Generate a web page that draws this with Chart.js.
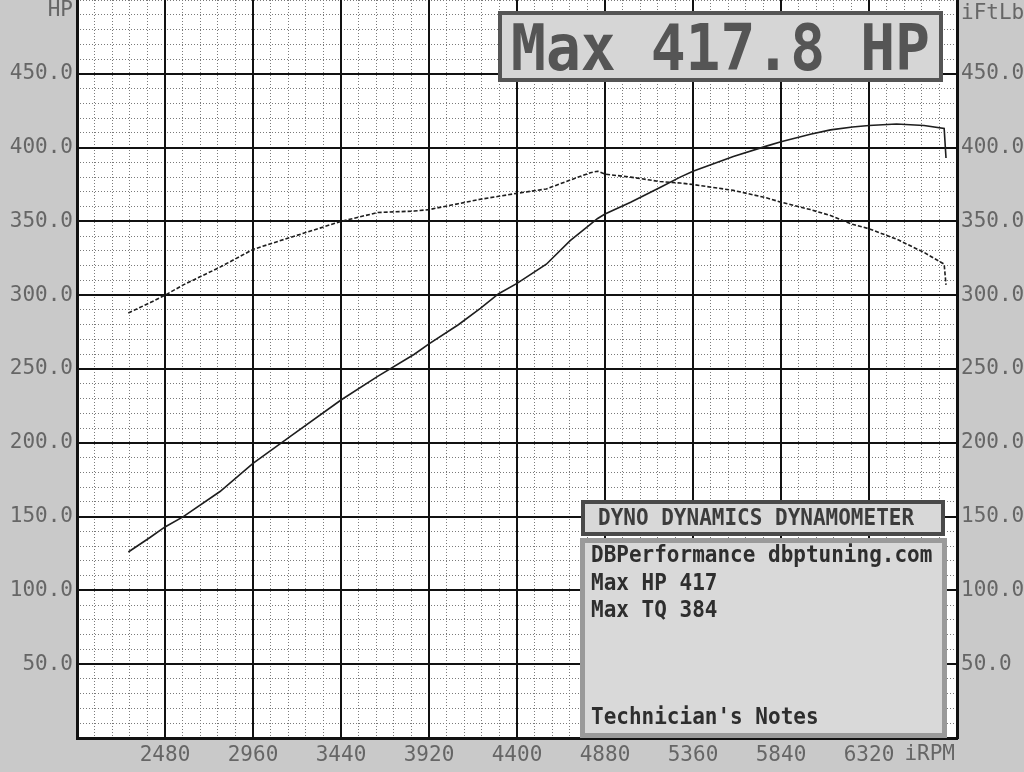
<!DOCTYPE html>
<html>
<head>
<meta charset="utf-8">
<title>Dyno Dynamics</title>
<script src="https://cdn.jsdelivr.net/npm/chart.js@4.4.1/dist/chart.umd.min.js"></script>
<style>
    html, body { margin: 0; padding: 0; background: #c9c9c9; }
    canvas { display: block; }
</style>
</head>
<body>
<canvas id="dynoChart" width="1024" height="772"></canvas>
<script>
// RPM samples and readings off the dyno sheet
const rpm    = [2280, 2400, 2480, 2580, 2780, 2960, 3160, 3440, 3640, 3840, 3920, 4080, 4200, 4300, 4400, 4560, 4690, 4800, 4840, 4880, 5020, 5180, 5290, 5360, 5580, 5760, 5840, 6000, 6110, 6230, 6320, 6470, 6620, 6730, 6740];
const hp     = [126, 136, 143, 150, 167, 186, 204, 229, 245, 260, 267, 280, 291, 301, 308, 321, 337, 348, 352, 355, 363, 373, 380, 384, 394, 401, 404, 409, 412, 414, 415, 416, 415, 413, 393];
const torque = [288, 295, 300, 307, 319, 331, 339, 350, 356, 357, 358, 362, 365, 367, 369, 372, 378, 383, 384, 382, 380, 377, 376, 375, 371, 366, 363, 358, 354, 348, 345, 338, 329, 321, 307];

const rpmTicks = [2480, 2960, 3440, 3920, 4400, 4880, 5360, 5840, 6320];
const infoLines = ['DBPerformance dbptuning.com', 'Max HP 417', 'Max TQ 384'];

const X_MIN = 2000, X_MAX = 6800, Y_MAX = 500;
const MONO = '"DejaVu Sans Mono", "Liberation Mono", monospace';
const labelGrey = '#666';

const yLabel = v => (v <= 0 || v >= Y_MAX) ? null : v.toFixed(1);

// no edge padding, the plot runs to the top of the sheet
const noPad = scale => {
    scale.paddingTop = 0;
    scale.paddingBottom = 0;
    scale.paddingLeft = 0;
    scale.paddingRight = 0;
};

// draws pixel-ish stretched text
function sheetText(ctx, text, x, baseline, size, sy, color, align) {
    ctx.save();
    ctx.translate(x, baseline);
    ctx.scale(1, sy);
    ctx.font = `bold ${size}px ${MONO}`;
    ctx.fillStyle = color;
    ctx.textAlign = align || 'left';
    ctx.textBaseline = 'alphabetic';
    ctx.fillText(text, 0, 0);
    ctx.restore();
}

function panel(ctx, x, y, w, h, fill, stroke, lw) {
    ctx.save();
    ctx.fillStyle = fill;
    ctx.fillRect(x, y, w, h);
    ctx.strokeStyle = stroke;
    ctx.lineWidth = lw;
    ctx.strokeRect(x + lw / 2, y + lw / 2, w - lw, h - lw);
    ctx.restore();
}

const sheet = {
    id: 'sheet',
    beforeDraw(chart) {
        const { ctx, chartArea: a } = chart;
        ctx.save();
        ctx.fillStyle = '#c9c9c9';
        ctx.fillRect(0, 0, chart.width, chart.height);
        ctx.fillStyle = '#ffffff';
        ctx.fillRect(a.left, a.top, a.right - a.left, a.bottom - a.top);
        ctx.restore();
    },
    afterDraw(chart) {
        const { ctx, chartArea: a } = chart;

        // axis captions
        ctx.save();
        ctx.font = `21px ${MONO}`;
        ctx.fillStyle = labelGrey;
        ctx.textBaseline = 'alphabetic';
        ctx.textAlign = 'right';
        ctx.fillText('HP', a.left - 4, 16);
        ctx.textAlign = 'left';
        ctx.fillText('iFtLb', a.right + 4, 19);
        ctx.textAlign = 'right';
        ctx.fillText('iRPM', a.right - 2, 760);
        ctx.restore();

        // big max box
        panel(ctx, 498, 11, 445, 71, '#d6d6d6', '#555', 4);
        sheetText(ctx, 'Max 417.8 HP', 511, 70, 58, 1.1, '#555', 'left');

        // header box
        panel(ctx, 581, 500, 364, 36, '#d8d8d8', '#4a4a4a', 4);
        sheetText(ctx, 'DYNO DYNAMICS DYNAMOMETER', 598, 525, 21, 1.12, '#3c3c3c', 'left');

        // info box
        panel(ctx, 580, 538, 367, 200, '#d9d9d9', '#9a9a9a', 5);
        const baselines = [562, 590, 617];
        infoLines.forEach((line, i) => {
            sheetText(ctx, line, 591, baselines[i], 21, 1.12, '#2e2e2e', 'left');
        });
        sheetText(ctx, "Technician's Notes", 591, 724, 21, 1.12, '#2e2e2e', 'left');
    }
};

new Chart(document.getElementById('dynoChart'), {
    type: 'line',
    data: {
        datasets: [
            {
                label: 'Torque',
                data: rpm.map((r, i) => ({ x: r, y: torque[i] })),
                borderColor: '#1e1e1e',
                borderWidth: 1.6,
                borderDash: [4, 2],
                pointRadius: 0,
                tension: 0,
                xAxisID: 'x',
                yAxisID: 'y'
            },
            {
                label: 'Power',
                data: rpm.map((r, i) => ({ x: r, y: hp[i] })),
                borderColor: '#1e1e1e',
                borderWidth: 1.6,
                pointRadius: 0,
                tension: 0,
                xAxisID: 'x',
                yAxisID: 'y'
            }
        ]
    },
    options: {
        responsive: false,
        animation: false,
        devicePixelRatio: 1,
        layout: { padding: 0 },
        plugins: {
            legend: { display: false },
            tooltip: { enabled: false }
        },
        scales: {
            xMinor: {
                type: 'linear',
                position: 'bottom',
                min: X_MIN,
                max: X_MAX,
                weight: 1,
                ticks: { display: false, stepSize: 96, autoSkip: false },
                grid: { color: '#7a7a7a', lineWidth: 1, drawTicks: false },
                border: { display: false, dash: [1, 2] },
                afterFit: noPad
            },
            yMinor: {
                type: 'linear',
                position: 'left',
                min: 0,
                max: Y_MAX,
                weight: 1,
                ticks: { display: false, stepSize: 10, autoSkip: false },
                grid: { color: '#7a7a7a', lineWidth: 1, drawTicks: false },
                border: { display: false, dash: [1, 2] },
                afterFit: noPad
            },
            x: {
                type: 'linear',
                position: 'bottom',
                min: X_MIN,
                max: X_MAX,
                weight: 2,
                afterBuildTicks: scale => {
                    scale.ticks = [X_MIN, ...rpmTicks, X_MAX].map(v => ({ value: v }));
                },
                ticks: {
                    autoSkip: false,
                    maxRotation: 0,
                    padding: 5,
                    color: labelGrey,
                    font: { family: MONO, size: 21 },
                    callback: v => rpmTicks.includes(v) ? String(v) : null
                },
                grid: { color: '#111', lineWidth: 2, drawTicks: false },
                border: { color: '#111', width: 3 },
                afterFit: scale => { noPad(scale); scale.height = 34; }
            },
            y: {
                type: 'linear',
                position: 'left',
                min: 0,
                max: Y_MAX,
                weight: 2,
                ticks: {
                    stepSize: 50,
                    autoSkip: false,
                    padding: 4,
                    color: labelGrey,
                    font: { family: MONO, size: 21 },
                    callback: yLabel
                },
                grid: { color: '#111', lineWidth: 2, drawTicks: false },
                border: { color: '#111', width: 3 },
                afterFit: scale => { noPad(scale); scale.width = 77; }
            },
            y2: {
                type: 'linear',
                position: 'right',
                min: 0,
                max: Y_MAX,
                ticks: {
                    stepSize: 50,
                    autoSkip: false,
                    padding: 4,
                    color: labelGrey,
                    font: { family: MONO, size: 21 },
                    callback: yLabel
                },
                grid: { display: false, drawTicks: false },
                border: { color: '#111', width: 3 },
                afterFit: scale => { noPad(scale); scale.width = 67; }
            }
        }
    },
    plugins: [sheet]
});
</script>
</body>
</html>
